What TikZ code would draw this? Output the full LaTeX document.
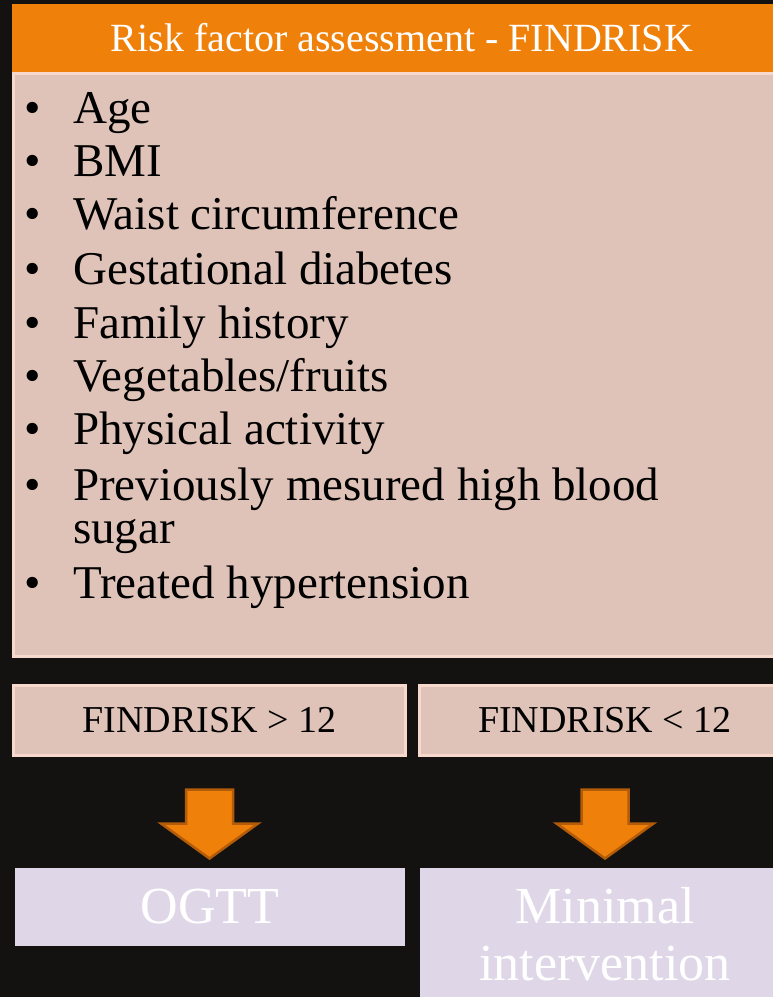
\documentclass[tikz,border=0pt]{standalone}
\usepackage{fontspec}
\setmainfont{Liberation Serif}
\usetikzlibrary{calc,positioning}
\definecolor{bgdark}{RGB}{19,18,17}
\definecolor{headorange}{RGB}{239,128,10}
\definecolor{arrowedge}{RGB}{178,91,8}
\definecolor{rosefill}{RGB}{224,195,184}
\definecolor{roseedge}{RGB}{247,216,204}
\definecolor{lavender}{RGB}{223,215,232}
\tikzset{
    header/.style={
    rectangle,fill=headorange,text=white,minimum width=780pt,minimum height=68pt,inner sep=0pt,font=\fontsize{40}{48}\selectfont
    },
    panel/.style={
    rectangle,fill=rosefill,draw=roseedge,line width=3pt,inner sep=0pt
    },
    dot/.style={inner sep=0pt,anchor=base,font=\fontsize{47}{53}\selectfont},
    item/.style={inner sep=0pt,anchor=base west,font=\fontsize{47}{53}\selectfont},
    scorebox/.style={panel,minimum width=392pt,minimum height=70pt,font=\fontsize{38}{44}\selectfont},
    outcome/.style={rectangle,fill=lavender,text=white,align=center,inner sep=0pt,font=\fontsize{52}{57}\selectfont},
  blockarrow/.style={fill=headorange,draw=arrowedge,line width=2.5pt,line join=miter},
}
\begin{document}
\begin{tikzpicture}[x=1pt,y=-1pt]
\useasboundingbox (0,0) rectangle (773,997);
\clip (0,0) rectangle (773,997);
\fill[bgdark] (0,0) rectangle (773,997);

  \node[panel,minimum width=777pt,minimum height=583pt] (factors) at (402,365) {};
  \node[header] (title) at (402,38) {Risk factor assessment - FINDRISK};
  \foreach \yy/\txt [count=\i] in {123/Age,176/BMI,229/Waist circumference,284/Gestational diabetes,338/Family history,391/{Vegetables/fruits},444/Physical activity,500/Previously mesured high blood,598/Treated hypertension}{
    \node[dot] (dot\i) at (33,\yy) {\textbullet};
    \node[item] (item\i) at (73,\yy) {\txt};
  }
  \node[item] (item8b) at (73,543) {sugar};

  \node[scorebox] (high) at (209.5,720.5) {FINDRISK > 12};
  \node[scorebox,minimum width=371pt,right of=high,node distance=395.5pt] (low) {FINDRISK < 12};

  \node[outcome,minimum width=390pt,minimum height=78pt] (ogtt) at (210,907) {OGTT};
  \node[outcome,minimum width=370pt,minimum height=132pt] (minimal) at (605,934) {Minimal\\intervention};

  \foreach \src in {high,low}
    \draw[blockarrow] ($(\src.south)+(-23.5,32.5)$) -- ($(\src.south)+(23.5,32.5)$) -- ($(\src.south)+(23.5,66.5)$) -- ($(\src.south)+(48.5,66.5)$) -- ($(\src.south)+(0,101.5)$) -- ($(\src.south)+(-48.5,66.5)$) -- ($(\src.south)+(-23.5,66.5)$) -- cycle;
\end{tikzpicture}
\end{document}
